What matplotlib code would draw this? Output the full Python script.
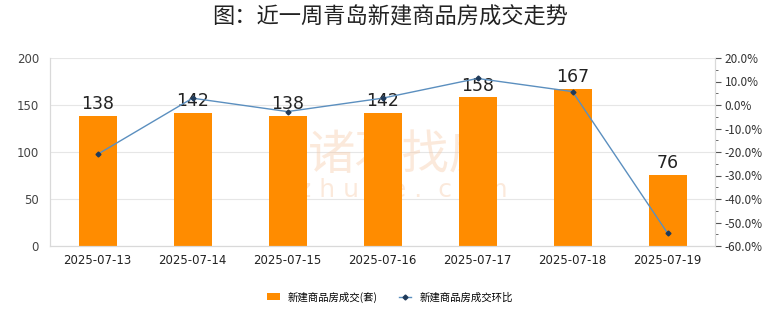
import matplotlib
matplotlib.use("Agg")
import matplotlib.pyplot as plt
from matplotlib.ticker import MultipleLocator, FuncFormatter
from matplotlib.lines import Line2D
from matplotlib.patches import Patch

plt.rcParams['font.family'] = ['Noto Sans CJK SC', 'DejaVu Sans']

dates = ["2025-07-13", "2025-07-14", "2025-07-15", "2025-07-16",
         "2025-07-17", "2025-07-18", "2025-07-19"]
deals = [138, 142, 138, 142, 158, 167, 76]
mom_pct = [-21.0, 2.9, -2.8, 2.9, 11.3, 5.7, -54.5]

title = "图：近一周青岛新建商品房成交走势"
bar_label = "新建商品房成交(套)"
line_label = "新建商品房成交环比"

fig = plt.figure(figsize=(7.8, 3.28), dpi=100)
ax = fig.add_axes([50/780, 1-246/328, 665/780, 188/328])
x = list(range(len(dates)))

ax.bar(x, deals, width=0.4, color="#FF8C00", zorder=2)
for xi, v in zip(x, deals):
    ax.text(xi, v + 3, str(v), ha="center", va="bottom", fontsize=12.5,
            family="DejaVu Sans", color="#222222", zorder=5)

ax.set_xlim(-0.5, len(dates) - 0.5)
ax.set_ylim(0, 200)
ax.yaxis.set_major_locator(MultipleLocator(50))
ax.grid(axis="y", color="#e6e6e6", linewidth=0.8, zorder=0)
ax.set_axisbelow(True)
ax.set_xticks(x)
ax.set_xticklabels(dates, family="DejaVu Sans", fontsize=8.5, color="#222222")
ax.tick_params(axis="x", length=0, pad=6)
ax.tick_params(axis="y", length=0, labelsize=8.5, labelcolor="#444444", pad=8)
for lab in ax.get_yticklabels():
    lab.set_family("DejaVu Sans")
ax.spines["top"].set_visible(False)
for s in ["left", "right", "bottom"]:
    ax.spines[s].set_color("#d9d9d9")
    ax.spines[s].set_linewidth(0.8)

# faint watermark
ax.text(0.53, 0.48, "诸葛找房", transform=ax.transAxes, ha="center", va="center",
        fontsize=34, color="#f6c9a6", alpha=0.4, zorder=1)
ax.text(0.53, 0.3, "z h u g e .  c o m", transform=ax.transAxes, ha="center",
        va="center", fontsize=18, color="#f6c9a6", alpha=0.4, zorder=1,
        family="DejaVu Sans")

ax2 = ax.twinx()
ax2.plot(x, mom_pct, color="#5b8fbf", linewidth=1.0, marker="D",
         markersize=2.5, markerfacecolor="#1f3a5a", markeredgecolor="#1f3a5a",
         zorder=4)
ax2.set_ylim(-60, 20)
ax2.yaxis.set_major_locator(MultipleLocator(10))
ax2.yaxis.set_minor_locator(MultipleLocator(5))
ax2.yaxis.set_major_formatter(FuncFormatter(lambda v, p: f"{v:.1f}%"))
ax2.tick_params(axis="y", which="major", length=4, color="#555555",
                labelsize=8.5, labelcolor="#333333", pad=3)
ax2.tick_params(axis="y", which="minor", length=2, color="#555555")
ax2.spines["top"].set_visible(False)
for s in ["left", "right", "bottom"]:
    ax2.spines[s].set_color("#d9d9d9")
    ax2.spines[s].set_linewidth(0.8)

fig.text(0.5, 1-17/328, title, ha="center", va="center", fontsize=16,
         fontweight="medium", color="#222222")

handles = [Patch(facecolor="#FF8C00", edgecolor="none"),
           Line2D([0], [0], color="#5b8fbf", linewidth=1.0, marker="D",
                  markersize=2.5, markerfacecolor="#1f3a5a",
                  markeredgecolor="#1f3a5a")]
fig.legend(handles, [bar_label, line_label], loc="center",
           bbox_to_anchor=(0.5, 1-297/328), ncol=2, frameon=False,
           fontsize=7.5, handlelength=1.2, handleheight=0.6, columnspacing=2.0,
           handletextpad=0.8)

fig.savefig("out.png", dpi=100)
